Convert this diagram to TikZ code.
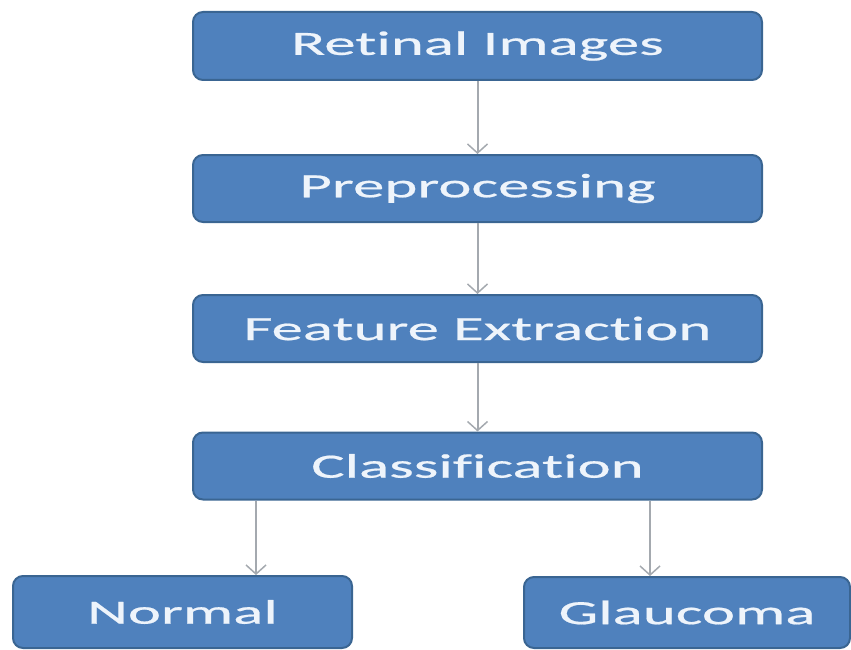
\documentclass[tikz,border=0pt]{standalone}
\usepackage{fontspec}
\newfontfamily\boxfont[FakeStretch=1.85,FakeBold=0.6,Ligatures={NoCommon}]{Carlito}
\usetikzlibrary{arrows.meta}
\definecolor{boxfill}{HTML}{4F81BD}
\definecolor{boxline}{HTML}{3A6592}
\definecolor{arrgrey}{HTML}{A4A9AF}
\definecolor{txt}{HTML}{EEF4FB}
\tikzset{
  stagebox/.style={draw=boxline, line width=2pt, fill=boxfill, rounded corners=10pt,
    inner sep=0pt, text=txt, font=\boxfont\fontsize{34}{40}\selectfont},
  flowarr/.style={draw=arrgrey, line width=2pt, -{Straight Barb[length=9pt,width=20pt,line width=1.5pt]}}
}
\begin{document}
\begin{tikzpicture}[x=1pt,y=-1pt]
\useasboundingbox (0,0) rectangle (851,650);
\node[stagebox, minimum width=569pt, minimum height=68pt] (ret) at (477.5,46) {Retinal Images};
\node[stagebox, minimum width=569pt, minimum height=67pt] (pre) at (477.5,188.5) {Preprocessing};
\node[stagebox, minimum width=569pt, minimum height=67pt] (fea) at (477.5,328.5) {Feature Extraction};
\node[stagebox, minimum width=569pt, minimum height=67pt] (cla) at (477.5,466) {Classification};
\node[stagebox, minimum width=339pt, minimum height=72pt] (nor) at (182.5,612) {Normal};
\node[stagebox, minimum width=326pt, minimum height=71pt] (gla) at (687,612.5) {Glaucoma};
\coordinate (left) at (256,0);
\coordinate (right) at (650,0);
\draw[flowarr] (ret) -- (pre);
\draw[flowarr] (pre) -- (fea);
\draw[flowarr] (fea) -- (cla);
\draw[flowarr] (left |- cla.south) -- (left |- nor.north);
\draw[flowarr] (right |- cla.south) -- (right |- gla.north);
\end{tikzpicture}
\end{document}
